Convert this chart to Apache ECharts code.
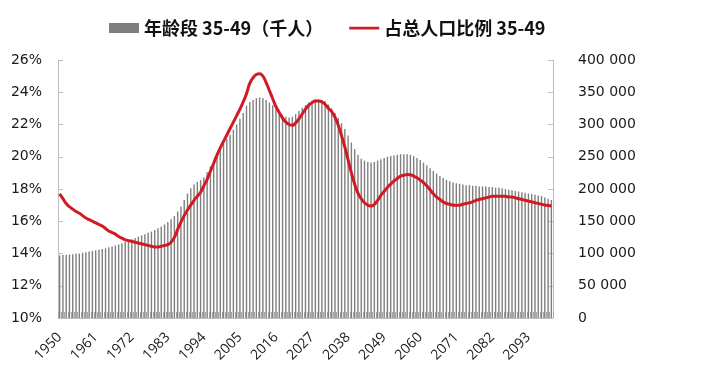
<!DOCTYPE html>
<html>
<head>
<meta charset="utf-8">
<script src="https://cdn.jsdelivr.net/npm/echarts@6/dist/echarts.min.js"></script>
<style>html,body{margin:0;padding:0;background:#fff}#c{width:717px;height:381px}</style>
</head>
<body>
<div id="c"></div>
<script>
// Years 1950..2100
const years = [];
for (let y = 1950; y <= 2100; y++) years.push(String(y));

// 年龄段 35-49（千人） — population aged 35-49, thousands
const population = [
  97000, 97500, 98000, 98500, 99000, 99500, 100000, 101000, 102000, 103000,
  104000, 105000, 106000, 107000, 108000, 109500, 111000, 112500, 114000, 116000,
  118000, 120000, 122000, 124000, 126000, 128000, 130000, 132000, 134000, 136500,
  139000, 142000, 145000, 149000, 153000, 158000, 165000, 173000, 183000, 193000,
  201000, 207000, 211000, 214000, 218000, 226000, 235000, 245000, 254000, 262000,
  270000, 277000, 284000, 292000, 300000, 309000, 318000, 329000, 335000, 338000,
  341000, 342000, 341000, 338000, 334000, 330000, 324000, 318000, 314000, 312000,
  311000, 312000, 316000, 321000, 326000, 330000, 334000, 337000, 339000, 339000,
  338000, 336000, 331000, 325000, 318000, 310000, 302000, 293000, 283000, 272000,
  262000, 253000, 247000, 244000, 242000, 241000, 242000, 244000, 246000, 248000,
  250000, 251000, 252000, 253000, 254000, 254000, 254000, 253000, 251000, 248000,
  245000, 241000, 237000, 232000, 228000, 224000, 220000, 217000, 214000, 212000,
  210000, 209000, 208000, 207000, 206000, 206000, 205000, 205000, 204000, 204000,
  204000, 203000, 203000, 202000, 202000, 201000, 200000, 199000, 198000, 197000,
  196000, 195000, 194000, 193000, 192000, 191000, 190000, 189000, 187000, 185000, 183000
];

// 占总人口比例 35-49 — share of total population, %
const share = [
  17.7, 17.4, 17.1, 16.9, 16.75, 16.6, 16.5, 16.35, 16.2, 16.1,
  16.0, 15.9, 15.8, 15.7, 15.55, 15.4, 15.3, 15.2, 15.05, 14.95,
  14.85, 14.8, 14.75, 14.7, 14.65, 14.6, 14.55, 14.5, 14.45, 14.4,
  14.4, 14.45, 14.5, 14.55, 14.7, 15.0, 15.5, 15.95, 16.35, 16.7,
  17.0, 17.3, 17.55, 17.8, 18.2, 18.6, 19.1, 19.6, 20.1, 20.55,
  20.95, 21.35, 21.75, 22.15, 22.55, 22.95, 23.4, 23.9, 24.55, 24.9,
  25.1, 25.15, 25.0, 24.6, 24.1, 23.6, 23.1, 22.75, 22.4, 22.15,
  22.0, 21.95, 22.1, 22.35, 22.65, 22.95, 23.2, 23.35, 23.45, 23.45,
  23.4, 23.25, 23.0, 22.8, 22.45, 21.95, 21.3, 20.6, 19.8, 19.0,
  18.3, 17.75, 17.4, 17.15, 17.0, 16.95, 17.05, 17.3, 17.6, 17.85,
  18.1, 18.3, 18.5, 18.65, 18.8, 18.85, 18.9, 18.88, 18.8, 18.7,
  18.55, 18.4, 18.2, 17.95, 17.7, 17.5, 17.35, 17.2, 17.1, 17.05,
  17.0, 17.0, 17.0, 17.05, 17.1, 17.15, 17.2, 17.3, 17.35, 17.4,
  17.45, 17.5, 17.55, 17.55, 17.55, 17.55, 17.55, 17.5, 17.5, 17.45,
  17.4, 17.35, 17.3, 17.25, 17.2, 17.15, 17.1, 17.05, 17.0, 16.98, 16.95
];

const barName = '年龄段 35-49（千人）';
const lineName = '占总人口比例 35-49';

const chart = echarts.init(document.getElementById('c'), null, {renderer: 'canvas'});
const axisFont = {fontFamily: 'DejaVu Sans', fontSize: 14, color: '#1a1a1a'};
const lineIcon = 'path://M0,0L0.01,0L0.01,0.01ZM0,3.7L30,3.7L30,6.5L0,6.5ZM0,10L0.01,10L0.01,9.99Z';
chart.setOption({
  animation: false,
  backgroundColor: '#fff',
  legend: {
    left: 104, top: 14,
    itemGap: 26, itemWidth: 30, itemHeight: 10,
    textStyle: {fontFamily: 'Noto Sans CJK SC', fontSize: 18, fontWeight: 'bold', color: '#111'},
    data: [
      {name: barName, icon: 'rect', itemStyle: {color: '#7f7f7f'}},
      {name: lineName, icon: lineIcon, itemStyle: {color: '#d11a24'}}
    ]
  },
  grid: {left: 58, right: 164, top: 60, bottom: 63, containLabel: false},
  xAxis: {
    type: 'category', data: years, boundaryGap: true,
    axisLine: {lineStyle: {color: '#bfbfbf'}},
    axisTick: {show: true, inside: true, length: 6, interval: 0, lineStyle: {color: '#a6a6a6'}},
    axisLabel: {interval: 10, rotate: 45, margin: 17, fontFamily: 'Open Sans', fontSize: 14, color: '#1a1a1a'},
    splitLine: {show: false}
  },
  yAxis: [
    {
      type: 'value', min: 10, max: 26, interval: 2, position: 'left',
      axisLine: {show: true, lineStyle: {color: '#bfbfbf'}},
      axisTick: {show: true, inside: true, length: 5, lineStyle: {color: '#bfbfbf'}},
      axisLabel: Object.assign({formatter: '{value}%', margin: 16}, axisFont),
      splitLine: {show: false}
    },
    {
      type: 'value', min: 0, max: 400000, interval: 50000, position: 'right',
      axisLine: {show: true, lineStyle: {color: '#bfbfbf'}},
      axisTick: {show: true, inside: true, length: 5, lineStyle: {color: '#bfbfbf'}},
      axisLabel: Object.assign({
        margin: 25,
        formatter: v => v === 0 ? '0' : String(v).replace(/\B(?=(\d{3})+(?!\d))/g, ' ')
      }, axisFont),
      splitLine: {show: false}
    }
  ],
  series: [
    {
      name: barName, type: 'bar', yAxisIndex: 1, data: population,
      barWidth: 1.4, itemStyle: {color: '#7f7f7f'}, z: 2
    },
    {
      name: lineName, type: 'line', yAxisIndex: 0, data: share,
      smooth: true, showSymbol: false, symbol: 'none',
      lineStyle: {color: '#d11a24', width: 3}, itemStyle: {color: '#d11a24'}, z: 3
    }
  ]
});
</script>
</body>
</html>
